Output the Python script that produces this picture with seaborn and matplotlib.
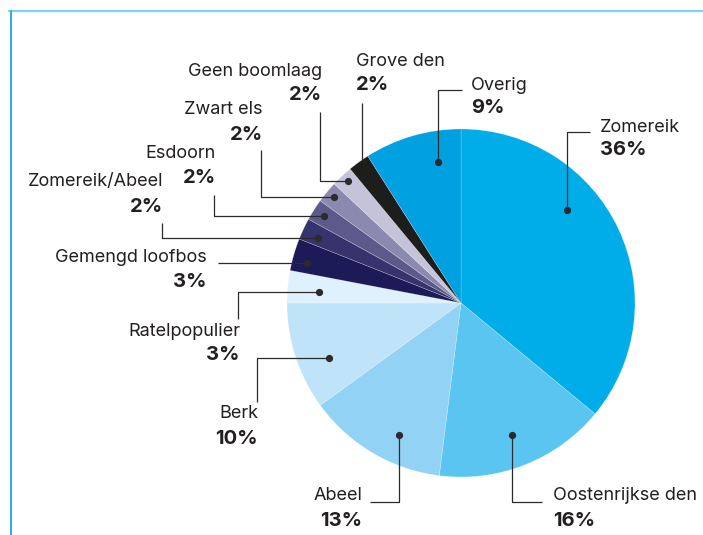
import numpy as np
import matplotlib
matplotlib.use("Agg")
import matplotlib.pyplot as plt
import seaborn as sns

# ---- data ----
labels = ["Zomereik", "Oostenrijkse den", "Abeel", "Berk", "Ratelpopulier",
          "Gemengd loofbos", "Zomereik/Abeel", "Esdoorn", "Zwart els",
          "Geen boomlaag", "Grove den", "Overig"]
values = [36, 16, 13, 10, 3, 3, 2, 2, 2, 2, 2, 9]
pct_labels = ["36%", "16%", "13%", "10%", "3%", "3%", "2%", "2%", "2%", "2%", "2%", "9%"]

# ---- style ----
colors = ["#00ade9", "#5bc5f2", "#92d3f5", "#bfe3f8", "#dff1fc",
          "#1c1b57", "#35346c", "#5b5a8a", "#8a89b0", "#c4c3da",
          "#1d1d1b", "#00a0e1"]

sns.set_theme(style="white")
plt.rcParams["font.family"] = ["Inter", "DejaVu Sans"]

W, H = 703, 535
CX, CY, R = 461, 303, 174

def px(x, y):
    return ((x - CX) / R, (CY - y) / R)

fig = plt.figure(figsize=(W / 100, H / 100), dpi=100)
ax = fig.add_axes([0, 0, 1, 1])

wedges, _ = ax.pie(values, colors=colors, startangle=90, counterclock=False,
                   radius=1.0, center=(0, 0),
                   wedgeprops=dict(edgecolor=(1, 1, 1, 0.35), linewidth=0.4))

ax.set_xlim(px(0, 0)[0], px(W, 0)[0])
ax.set_ylim(px(0, H)[1], px(0, 0)[1])
ax.set_aspect("auto")
ax.axis("off")

# layout: where inside the wedge the dot sits (fraction of wedge, radius)
dot_frac = [0.376, 0.51, 0.385, 0.37, 0.41, 0.35, 0.39, 0.5, 0.54, 0.56, 0.7, 0.71]
dot_rad = [0.81, 0.81, 0.84, 0.82, 0.82, 0.915, 0.90, 0.93, 0.95, 0.955, 1.0, 0.82]
# leader route: mode, elbow/end in pixels
routes = [("vh", 132, 590), ("vh", 502, 542), ("vh", 502, 370), ("hv", 257, 402),
          ("hv", 238, 319), ("h", 218, None), ("hv", 162, 223), ("hv", 214, 195),
          ("hv", 261, 150), ("hv", 320, 112), ("v", 103, None), ("vh", 90, 462)]
# text placement in pixels: x, y_name, y_pct, ha
texts = [(600, 127, 150, "left"), (553, 496, 521, "left"), (362, 496, 521, "right"),
         (258, 414, 439, "right"), (240, 331, 355, "right"), (207, 258, 282, "right"),
         (163, 182, 207, "right"), (216, 153, 178, "right"), (263, 109, 135, "right"),
         (322, 71, 95, "right"), (356, 61, 85, "left"), (471, 85, 108, "left")]

line_col = "#2b2b2b"
txt_col = "#231f20"
total = float(sum(values))
cum = 0.0
for i, v in enumerate(values):
    a0 = 90 - 360 * cum / total
    a1 = 90 - 360 * (cum + v) / total
    cum += v
    ang = np.deg2rad(a0 + (a1 - a0) * dot_frac[i])
    dx, dy = dot_rad[i] * np.cos(ang), dot_rad[i] * np.sin(ang)
    mode, p, q = routes[i]
    if mode == "vh":
        ey = px(0, p)[1]
        ex = px(q, 0)[0]
        xs, ys = [dx, dx, ex], [dy, ey, ey]
    elif mode == "hv":
        ex = px(p, 0)[0]
        ey = px(0, q)[1]
        xs, ys = [dx, ex, ex], [dy, dy, ey]
    elif mode == "h":
        ex = px(p, 0)[0]
        xs, ys = [dx, ex], [dy, dy]
    else:
        ey = px(0, p)[1]
        xs, ys = [dx, dx], [dy, ey]
    ax.plot(xs, ys, color=line_col, lw=0.9, solid_capstyle="butt", zorder=5)
    if labels[i] != "Grove den":
        ax.plot([dx], [dy], "o", color=line_col, ms=4.2, zorder=6)
    tx, tyn, typ, ha = texts[i]
    ax.text(*px(tx, tyn), labels[i], ha=ha, va="center", fontsize=13,
            color=txt_col)
    ax.text(*px(tx, typ), pct_labels[i], ha=ha, va="center", fontsize=14.5,
            fontweight="bold", color=txt_col)

# frame lines (top and left)
fig.add_artist(plt.Line2D([9 / W, 1], [1 - 11 / H, 1 - 11 / H],
                          transform=fig.transFigure, color="#7fd1f1", lw=1.6))
fig.add_artist(plt.Line2D([10.5 / W, 10.5 / W], [0, 1 - 11 / H],
                          transform=fig.transFigure, color="#29abe6", lw=1.4))

fig.savefig("out.png", dpi=100)
